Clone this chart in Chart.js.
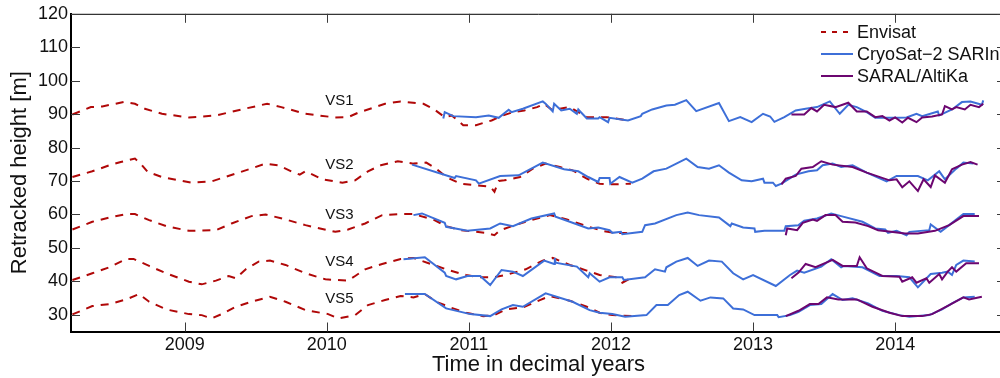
<!DOCTYPE html>
<html>
<head>
<meta charset="utf-8">
<script src="https://cdn.jsdelivr.net/npm/chart.js@4/dist/chart.umd.min.js"></script>
<style>
  html, body { margin: 0; padding: 0; background: #fff; overflow: hidden; }
  #wrap { width: 1010px; height: 378px; }
</style>
</head>
<body>
<div id="wrap"><canvas id="heights" width="1010" height="378"></canvas></div>
<script>
// tick labels
const yearTicks = [2009, 2010, 2011, 2012, 2013, 2014];
const heightTicks = [30, 40, 50, 60, 70, 80, 90, 100, 110, 120];

// virtual stations
const stations = ['VS1', 'VS2', 'VS3', 'VS4', 'VS5'];

// [decimal year, retracked height in m]
const envisatVS1 = [[2008.21,89.9],[2008.34,92.1],[2008.42,92.3],[2008.57,93.6],[2008.65,93.1],[2008.72,91.6],[2008.84,90.1],[2009.03,89.0],[2009.22,89.6],[2009.40,91.4],[2009.58,93.1],[2009.68,92.1],[2009.85,90.1],[2010.06,89.0],[2010.15,89.1],[2010.22,90.4],[2010.41,93.1],[2010.52,93.8],[2010.68,93.1],[2010.75,91.6],[2010.83,89.1],[2010.88,89.6],[2010.96,86.7],[2011.05,86.7],[2011.16,88.1],[2011.24,89.6],[2011.31,90.6],[2011.39,91.1],[2011.48,92.1],[2011.53,93.1],[2011.59,91.1],[2011.64,91.6],[2011.71,92.1],[2011.83,89.1],[2011.97,89.1],[2012.12,88.1]];
const envisatVS2 = [[2008.21,71.2],[2008.35,72.9],[2008.47,74.7],[2008.55,75.7],[2008.65,76.7],[2008.69,75.2],[2008.74,72.7],[2008.84,71.2],[2009.05,69.5],[2009.19,69.9],[2009.38,72.5],[2009.57,75.2],[2009.66,74.7],[2009.75,72.9],[2009.81,71.9],[2009.85,72.9],[2009.97,70.5],[2010.11,69.5],[2010.20,70.2],[2010.29,72.9],[2010.38,74.7],[2010.50,75.9],[2010.61,75.2],[2010.70,75.5],[2010.77,73.7],[2010.84,71.2],[2010.94,69.2],[2011.05,68.7],[2011.15,68.3],[2011.18,66.8],[2011.21,70.0],[2011.25,70.2],[2011.36,71.2],[2011.45,73.7],[2011.54,75.2],[2011.64,74.2],[2011.73,73.2],[2011.83,70.7],[2011.92,69.2],[2012.01,69.0],[2012.14,69.2]];
const envisatVS3 = [[2008.21,55.5],[2008.35,57.8],[2008.47,59.1],[2008.59,60.1],[2008.65,60.1],[2008.75,58.3],[2008.87,56.5],[2009.03,55.1],[2009.22,55.3],[2009.33,57.3],[2009.47,59.5],[2009.57,60.0],[2009.71,58.5],[2009.85,56.8],[2010.06,54.8],[2010.15,55.5],[2010.27,57.3],[2010.39,59.8],[2010.52,60.1],[2010.61,60.1],[2010.75,58.5],[2010.84,56.5],[2010.94,55.3],[2011.05,54.8],[2011.12,54.5],[2011.18,53.8],[2011.22,55.3],[2011.36,57.3],[2011.48,58.8],[2011.57,59.8],[2011.69,58.5],[2011.83,56.5],[2011.94,55.1],[2012.03,54.4],[2012.15,54.5]];
const envisatVS4 = [[2008.21,40.4],[2008.35,42.4],[2008.47,44.2],[2008.59,46.7],[2008.64,46.7],[2008.75,44.6],[2008.87,42.4],[2009.03,39.9],[2009.12,39.1],[2009.22,40.2],[2009.31,41.6],[2009.36,40.9],[2009.43,43.6],[2009.52,45.9],[2009.60,46.2],[2009.71,44.9],[2009.85,42.4],[2009.99,40.6],[2010.15,40.2],[2010.20,41.6],[2010.27,43.6],[2010.39,45.2],[2010.52,46.7],[2010.61,47.0],[2010.75,44.9],[2010.87,43.2],[2010.98,41.9],[2011.08,41.2],[2011.17,41.2],[2011.26,41.9],[2011.40,43.6],[2011.52,46.2],[2011.59,47.0],[2011.71,44.9],[2011.83,43.2],[2011.92,41.9],[2012.04,41.2],[2012.08,39.6],[2012.15,41.2]];
const envisatVS5 = [[2008.21,30.1],[2008.35,32.6],[2008.47,33.2],[2008.59,34.6],[2008.68,36.2],[2008.75,33.9],[2008.87,31.6],[2009.03,30.2],[2009.12,29.9],[2009.19,28.9],[2009.26,30.2],[2009.36,32.4],[2009.47,33.9],[2009.60,35.4],[2009.71,33.9],[2009.85,31.4],[2010.01,30.2],[2010.08,28.9],[2010.20,29.9],[2010.29,32.9],[2010.41,34.4],[2010.52,35.6],[2010.61,35.2],[2010.69,36.2],[2010.77,33.9],[2010.87,32.2],[2010.98,30.6],[2011.10,29.6],[2011.18,29.9],[2011.26,31.6],[2011.38,32.2],[2011.50,34.4],[2011.57,35.6],[2011.71,34.2],[2011.83,32.4],[2011.92,30.6],[2012.01,29.9],[2012.15,29.6]];

const cryosatVS1 = [[2010.82,88.7],[2010.83,90.6],[2010.89,89.4],[2011.05,89.1],[2011.14,89.6],[2011.21,88.9],[2011.28,91.3],[2011.30,90.6],[2011.38,91.6],[2011.52,93.8],[2011.54,93.1],[2011.59,90.8],[2011.60,93.1],[2011.65,91.1],[2011.71,91.6],[2011.76,90.1],[2011.77,91.4],[2011.83,88.7],[2011.91,88.7],[2011.92,89.1],[2011.98,87.6],[2011.99,88.9],[2012.12,88.1],[2012.21,89.4],[2012.22,90.1],[2012.29,91.4],[2012.39,92.6],[2012.45,92.8],[2012.53,94.2],[2012.60,90.9],[2012.76,93.3],[2012.83,87.9],[2012.91,89.1],[2012.99,87.6],[2013.07,90.1],[2013.12,89.3],[2013.15,87.7],[2013.22,89.1],[2013.30,91.1],[2013.37,91.6],[2013.45,92.1],[2013.54,93.8],[2013.61,90.1],[2013.67,92.8],[2013.73,92.1],[2013.80,90.6],[2013.86,88.9],[2014.01,88.9],[2014.08,89.0],[2014.15,90.1],[2014.19,89.4],[2014.30,90.8],[2014.31,89.6],[2014.40,91.4],[2014.47,93.6],[2014.53,93.8],[2014.61,92.8],[2014.62,94.1]];
const cryosatVS2 = [[2010.60,74.9],[2010.90,70.9],[2010.91,71.5],[2011.05,70.2],[2011.07,69.2],[2011.22,71.5],[2011.35,71.7],[2011.52,75.5],[2011.67,73.5],[2011.77,72.9],[2011.84,71.2],[2011.91,69.7],[2011.92,70.9],[2011.99,70.9],[2011.995,69.2],[2012.06,71.2],[2012.15,69.5],[2012.22,70.7],[2012.30,72.9],[2012.39,73.7],[2012.53,76.7],[2012.61,74.2],[2012.69,73.7],[2012.76,74.7],[2012.83,72.5],[2012.92,70.2],[2012.99,69.9],[2013.07,70.7],[2013.08,69.5],[2013.14,69.5],[2013.16,68.5],[2013.20,69.2],[2013.30,71.9],[2013.39,72.9],[2013.45,73.2],[2013.49,74.7],[2013.56,75.2],[2013.62,74.2],[2013.70,74.7],[2013.80,72.5],[2013.94,69.9],[2014.01,71.5],[2014.16,71.5],[2014.23,70.2],[2014.31,72.9],[2014.35,70.5],[2014.43,73.7],[2014.48,75.5],[2014.55,75.2]];
const cryosatVS3 = [[2010.61,59.8],[2010.67,60.3],[2010.83,57.5],[2010.84,56.3],[2010.99,55.1],[2011.15,55.8],[2011.22,57.3],[2011.31,56.5],[2011.44,58.8],[2011.60,60.3],[2011.61,59.3],[2011.71,57.8],[2011.84,55.8],[2011.91,56.1],[2011.99,55.3],[2012.01,54.5],[2012.07,54.8],[2012.08,54.1],[2012.22,54.8],[2012.24,56.8],[2012.31,57.3],[2012.46,59.8],[2012.54,60.6],[2012.62,59.8],[2012.76,59.1],[2012.84,56.5],[2012.85,57.3],[2012.93,56.1],[2013.01,55.8],[2013.015,54.8],[2013.08,55.1],[2013.22,55.1],[2013.23,56.5],[2013.32,56.8],[2013.36,58.1],[2013.45,58.8],[2013.55,60.3],[2013.62,59.5],[2013.77,57.8],[2013.86,55.8],[2013.93,55.5],[2013.95,54.5],[2014.01,55.1],[2014.08,53.8],[2014.10,54.8],[2014.24,55.3],[2014.25,57.0],[2014.32,54.8],[2014.38,56.8],[2014.48,60.1],[2014.56,60.1]];
const cryosatVS4 = [[2010.54,46.6],[2010.69,47.2],[2010.83,42.6],[2010.84,41.6],[2010.91,40.6],[2010.99,41.6],[2011.08,41.6],[2011.15,38.9],[2011.23,43.4],[2011.31,42.9],[2011.38,41.6],[2011.53,46.2],[2011.60,45.2],[2011.605,47.0],[2011.61,45.6],[2011.76,44.4],[2011.84,41.2],[2011.85,42.4],[2011.92,39.9],[2011.99,41.2],[2012.08,41.2],[2012.09,40.4],[2012.24,41.2],[2012.31,43.6],[2012.38,42.9],[2012.39,44.2],[2012.46,45.9],[2012.54,47.0],[2012.61,44.6],[2012.69,46.2],[2012.78,45.9],[2012.86,42.4],[2012.93,40.6],[2013.00,41.9],[2013.16,38.6],[2013.26,41.9],[2013.31,43.2],[2013.36,42.6],[2013.48,44.4],[2013.55,46.6],[2013.62,44.2],[2013.64,44.6],[2013.77,44.2],[2013.89,41.6],[2014.01,41.6],[2014.10,41.2],[2014.16,38.2],[2014.25,42.2],[2014.33,42.6],[2014.37,42.9],[2014.40,41.9],[2014.43,44.9],[2014.48,46.2],[2014.56,45.9]];
const cryosatVS5 = [[2010.55,36.2],[2010.69,36.2],[2010.84,31.9],[2011.01,30.2],[2011.15,29.6],[2011.23,31.6],[2011.31,32.9],[2011.38,32.4],[2011.54,36.4],[2011.73,33.9],[2011.85,31.4],[2011.92,30.6],[2012.01,30.2],[2012.10,29.4],[2012.25,29.9],[2012.32,32.9],[2012.40,32.9],[2012.48,35.9],[2012.54,36.9],[2012.63,34.2],[2012.70,35.2],[2012.79,34.9],[2012.86,31.9],[2012.93,31.6],[2013.01,29.9],[2013.17,29.9],[2013.18,29.3],[2013.26,29.9],[2013.32,30.9],[2013.40,32.9],[2013.48,33.2],[2013.56,36.2],[2013.63,34.4],[2013.70,34.9],[2013.81,33.4],[2013.91,31.2],[2014.03,29.9],[2014.10,29.4],[2014.24,29.9],[2014.33,31.6],[2014.40,33.4],[2014.48,35.2],[2014.56,35.4]];

const saralVS1 = [[2013.27,89.9],[2013.36,89.9],[2013.41,91.8],[2013.45,90.8],[2013.50,92.8],[2013.58,92.1],[2013.67,93.4],[2013.73,90.8],[2013.80,90.8],[2013.86,89.1],[2013.91,89.4],[2013.96,88.1],[2014.00,89.0],[2014.05,87.5],[2014.09,88.9],[2014.15,87.6],[2014.19,89.0],[2014.26,89.3],[2014.33,89.9],[2014.35,92.4],[2014.40,91.4],[2014.43,92.1],[2014.49,91.4],[2014.53,92.8],[2014.59,92.1],[2014.62,93.1]];
const saralVS2 = [[2013.20,69.0],[2013.23,70.7],[2013.30,71.5],[2013.34,73.7],[2013.42,74.2],[2013.48,75.9],[2013.56,74.9],[2013.70,74.2],[2013.80,72.5],[2013.96,70.2],[2014.01,70.5],[2014.05,68.1],[2014.10,69.9],[2014.16,67.0],[2014.20,70.5],[2014.25,68.2],[2014.28,71.7],[2014.35,69.5],[2014.40,73.5],[2014.47,74.9],[2014.53,75.7],[2014.58,74.9]];
const saralVS3 = [[2013.23,53.8],[2013.24,55.8],[2013.31,55.3],[2013.35,57.5],[2013.42,58.5],[2013.45,58.1],[2013.51,59.8],[2013.58,59.8],[2013.63,57.8],[2013.72,57.6],[2013.81,56.5],[2013.88,55.3],[2013.97,54.8],[2014.07,54.3],[2014.16,54.3],[2014.28,55.1],[2014.38,56.8],[2014.48,59.5],[2014.59,59.5]];
const saralVS4 = [[2013.27,40.9],[2013.32,42.6],[2013.37,45.2],[2013.44,44.2],[2013.56,46.4],[2013.63,44.6],[2013.73,44.6],[2013.75,47.2],[2013.80,43.9],[2013.91,41.6],[2014.03,41.4],[2014.05,39.9],[2014.12,41.2],[2014.15,39.6],[2014.22,40.9],[2014.24,39.6],[2014.31,42.2],[2014.33,40.6],[2014.37,42.9],[2014.40,44.2],[2014.43,42.9],[2014.50,45.4],[2014.59,45.4]];
const saralVS5 = [[2013.23,29.6],[2013.32,31.2],[2013.40,33.2],[2013.46,33.2],[2013.52,35.2],[2013.60,34.6],[2013.73,34.6],[2013.84,32.4],[2013.96,30.6],[2014.05,29.6],[2014.19,29.6],[2014.26,30.2],[2014.38,32.9],[2014.48,35.2],[2014.52,34.6],[2014.61,35.4]];

// where each station name sits, in axis units
const stationLabelAt = [[2009.99, 93.9], [2009.99, 74.7], [2009.99, 59.8], [2009.99, 45.9], [2009.99, 34.9]];

const FONT = "'Liberation Sans', Arial, Helvetica, sans-serif";

const missions = [
    { label: 'Envisat', color: '#b00808', dash: [8, 7], keyDash: [5, 6], order: 3, series: [envisatVS1, envisatVS2, envisatVS3, envisatVS4, envisatVS5] },
    { label: 'CryoSat\u22122 SARIn', color: '#3d6fd8', dash: [], keyDash: [], order: 2, series: [cryosatVS1, cryosatVS2, cryosatVS3, cryosatVS4, cryosatVS5] },
    { label: 'SARAL/AltiKa', color: '#6c0670', dash: [], keyDash: [], order: 1, series: [saralVS1, saralVS2, saralVS3, saralVS4, saralVS5] },
];

const datasets = [];
for (const m of missions) {
    m.series.forEach((pts, i) => {
        datasets.push({
            label: m.label,
            station: stations[i],
            data: pts.map(([x, y]) => ({ x, y })),
            borderColor: m.color,
            borderDash: m.dash,
            borderWidth: 2,
            pointRadius: 0,
            tension: 0,
            fill: false,
            order: m.order,
        });
    });
}

// box, inward ticks, station names and legend
const framePlugin = {
    id: 'frame',
    afterDraw(chart) {
        const { ctx, chartArea: a, scales: { x, y } } = chart;
        ctx.save();

        ctx.strokeStyle = '#000';
        ctx.lineWidth = 1;
        ctx.beginPath();
        ctx.moveTo(a.left, a.top + 0.5);
        ctx.lineTo(a.right, a.top + 0.5);
        ctx.moveTo(a.right - 0.5, a.top);
        ctx.lineTo(a.right - 0.5, a.bottom);
        ctx.stroke();

        const len = 9;
        ctx.strokeStyle = '#3a3a3a';
        ctx.beginPath();
        for (const t of x.ticks) {
            const px = Math.round(x.getPixelForValue(t.value)) + 0.5;
            ctx.moveTo(px, a.bottom);
            ctx.lineTo(px, a.bottom - len);
            ctx.moveTo(px, a.top);
            ctx.lineTo(px, a.top + len);
        }
        for (const t of y.ticks) {
            const py = Math.round(y.getPixelForValue(t.value)) + 0.5;
            ctx.moveTo(a.left, py);
            ctx.lineTo(a.left + len, py);
            ctx.moveTo(a.right, py);
            ctx.lineTo(a.right - len, py);
        }
        ctx.stroke();

        ctx.fillStyle = '#111';
        ctx.font = `15px ${FONT}`;
        ctx.textBaseline = 'middle';
        ctx.textAlign = 'left';
        stations.forEach((name, i) => {
            const [sx, sy] = stationLabelAt[i];
            ctx.fillText(name, x.getPixelForValue(sx), y.getPixelForValue(sy));
        });

        // legend, one row per mission
        ctx.font = `18px ${FONT}`;
        ctx.lineWidth = 2;
        missions.forEach((m, i) => {
            const rowY = 32 + i * 22;
            ctx.strokeStyle = m.color;
            ctx.setLineDash(m.keyDash);
            ctx.beginPath();
            ctx.moveTo(821, rowY);
            ctx.lineTo(853, rowY);
            ctx.stroke();
            ctx.setLineDash([]);
            ctx.fillStyle = '#111';
            ctx.fillText(m.label, 857, rowY + 1);
        });

        ctx.restore();
    }
};

new Chart(document.getElementById('heights'), {
    type: 'line',
    data: { datasets },
    options: {
        responsive: false,
        animation: false,
        devicePixelRatio: 1,
        layout: { padding: { left: 0, top: 13, right: 4, bottom: 0 } },
        plugins: {
            legend: { display: false },
            tooltip: { enabled: false },
        },
        scales: {
            x: {
                type: 'linear',
                min: 2008.2,
                max: 2014.78,
                grid: { display: false, drawTicks: false },
                border: { display: true, color: '#000', width: 2 },
                afterBuildTicks: (scale) => { scale.ticks = yearTicks.map(v => ({ value: v })); },
                afterFit: (scale) => { scale.height = 46.5; },
                ticks: {
                    padding: 3,
                    color: '#111',
                    maxRotation: 0,
                    autoSkip: false,
                    font: { family: FONT, size: 18 },
                    callback: (v) => String(v),
                },
                title: {
                    display: true,
                    text: 'Time in decimal years',
                    color: '#111',
                    padding: { top: 0, bottom: 0 },
                    font: { family: FONT, size: 22 },
                },
            },
            y: {
                type: 'linear',
                min: 25,
                max: 120,
                grid: { display: false, drawTicks: false },
                border: { display: true, color: '#000', width: 2 },
                afterBuildTicks: (scale) => { scale.ticks = heightTicks.map(v => ({ value: v })); },
                afterFit: (scale) => { scale.width = 71; },
                ticks: {
                    padding: 3,
                    color: '#111',
                    autoSkip: false,
                    font: { family: FONT, size: 18 },
                    callback: (v) => String(v),
                },
                title: {
                    display: true,
                    text: 'Retracked height [m]',
                    color: '#111',
                    padding: { top: 7, bottom: 0 },
                    font: { family: FONT, size: 22 },
                },
            },
        },
    },
    plugins: [framePlugin],
});
</script>
</body>
</html>
